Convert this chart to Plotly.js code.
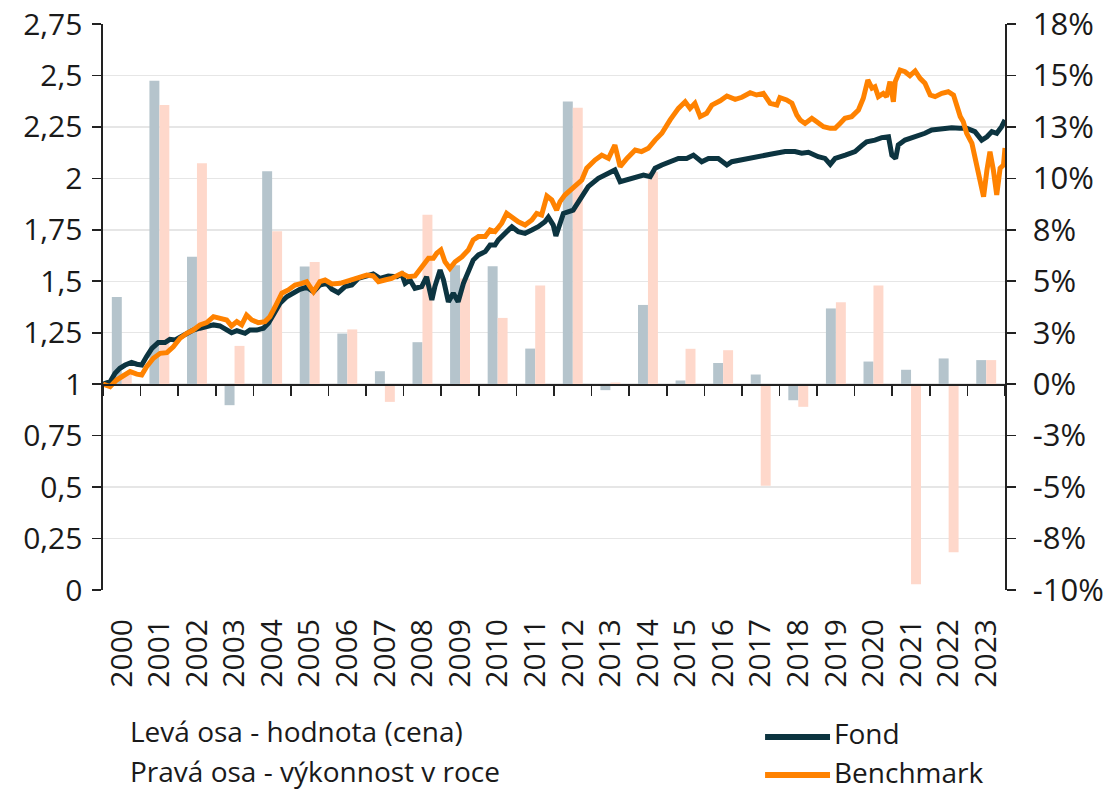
<!DOCTYPE html>
<html>
<head>
<meta charset="utf-8">
<script src="https://cdn.plot.ly/plotly-3.0.1.min.js"></script>
<style>
  html, body { margin: 0; padding: 0; background: #ffffff; }
  #chart { width: 1112px; height: 791px; }
</style>
</head>
<body>
<div id="chart"></div>
<script>
// ---- Data ----
var years = ["2000","2001","2002","2003","2004","2005","2006","2007","2008","2009","2010","2011",
             "2012","2013","2014","2015","2016","2017","2018","2019","2020","2021","2022","2023"];

// Annual performance in % (right axis)
var fundPerf  = [4.24, 14.74, 6.19, -1.02, 10.35, 5.72, 2.46, 0.63, 2.04, 5.78, 5.73, 1.73,
                 13.74, -0.29, 3.85, 0.18, 1.03, 0.47, -0.78, 3.68, 1.10, 0.70, 1.25, 1.17];
var benchPerf = [0.55, 13.57, 10.74, 1.86, 7.43, 5.94, 2.66, -0.86, 8.23, 5.13, 3.22, 4.80,
                 13.43, 0.08, 10.32, 1.72, 1.65, -4.94, -1.10, 3.98, 4.80, -9.72, -8.16, 1.17];

// Value (price) series, left axis; time in decimal years
var fundDates = [
  2000.00,2000.19,2000.32,2000.45,2000.59,2000.76,2000.90,2001.03,2001.16,2001.30,
  2001.47,2001.65,2001.78,2001.92,2002.05,2002.23,2002.40,2002.58,2002.76,2002.94,
  2003.11,2003.29,2003.42,2003.56,2003.69,2003.78,2003.91,2004.09,2004.27,2004.40,
  2004.53,2004.71,2004.89,2005.06,2005.24,2005.42,2005.60,2005.77,2005.95,2006.09,
  2006.26,2006.44,2006.62,2006.79,2006.97,2007.19,2007.37,2007.59,2007.82,2007.95,
  2008.04,2008.17,2008.30,2008.48,2008.61,2008.75,2008.83,2008.97,2009.06,2009.19,
  2009.32,2009.45,2009.59,2009.72,2009.85,2009.99,2010.17,2010.30,2010.43,2010.52,
  2010.70,2010.88,2011.05,2011.23,2011.41,2011.58,2011.76,2011.85,2011.98,2012.05,
  2012.25,2012.51,2012.74,2012.91,2013.18,2013.45,2013.62,2013.76,2013.94,2014.16,
  2014.38,2014.56,2014.69,2014.87,2015.09,2015.31,2015.53,2015.71,2015.93,2016.11,
  2016.37,2016.60,2016.73,2017.00,2017.26,2017.53,2017.79,2018.15,2018.41,2018.59,
  2018.77,2019.03,2019.21,2019.35,2019.48,2019.75,2020.01,2020.19,2020.32,2020.54,
  2020.72,2020.90,2020.99,2021.09,2021.16,2021.34,2021.61,2021.87,2022.05,2022.32,
  2022.58,2022.80,2022.98,2023.20,2023.38,2023.52,2023.65,2023.78,2023.91,2024.00
];
var fundValues = [
  1.000,1.012,1.053,1.077,1.093,1.106,1.097,1.093,1.134,1.174,
  1.202,1.202,1.218,1.215,1.228,1.247,1.263,1.272,1.279,1.288,
  1.283,1.267,1.250,1.260,1.255,1.247,1.263,1.263,1.272,1.296,
  1.336,1.393,1.425,1.442,1.461,1.471,1.449,1.482,1.490,1.461,
  1.444,1.474,1.482,1.514,1.522,1.535,1.514,1.526,1.522,1.535,
  1.490,1.506,1.466,1.474,1.522,1.409,1.474,1.555,1.506,1.400,
  1.442,1.400,1.490,1.555,1.603,1.628,1.644,1.676,1.676,1.701,
  1.733,1.765,1.741,1.733,1.749,1.765,1.789,1.811,1.773,1.720,
  1.830,1.846,1.911,1.960,2.000,2.025,2.041,1.984,1.992,2.008,
  2.016,2.008,2.049,2.065,2.081,2.097,2.097,2.113,2.081,2.097,
  2.097,2.065,2.081,2.089,2.102,2.109,2.118,2.130,2.130,2.122,
  2.127,2.105,2.097,2.068,2.097,2.113,2.130,2.159,2.178,2.186,
  2.198,2.202,2.113,2.097,2.162,2.186,2.202,2.219,2.235,2.243,
  2.246,2.243,2.243,2.227,2.186,2.202,2.227,2.219,2.251,2.284
];

var benchDates = [
  2000.00,2000.19,2000.36,2000.54,2000.72,2000.90,2001.03,2001.16,2001.34,2001.52,
  2001.70,2001.87,2002.05,2002.23,2002.40,2002.58,2002.76,2002.94,2003.11,2003.29,
  2003.42,2003.56,2003.69,2003.82,2003.96,2004.13,2004.31,2004.44,2004.58,2004.76,
  2004.93,2005.11,2005.29,2005.42,2005.60,2005.77,2005.91,2006.09,2006.31,2006.44,
  2006.62,2006.79,2007.02,2007.19,2007.33,2007.50,2007.68,2007.95,2008.12,2008.30,
  2008.48,2008.66,2008.79,2008.88,2008.99,2009.10,2009.23,2009.37,2009.55,2009.72,
  2009.85,2009.99,2010.17,2010.30,2010.43,2010.61,2010.74,2010.92,2011.05,2011.23,
  2011.41,2011.54,2011.67,2011.81,2011.94,2012.07,2012.16,2012.29,2012.56,2012.74,
  2012.87,2013.09,2013.27,2013.45,2013.62,2013.76,2013.94,2014.16,2014.33,2014.51,
  2014.69,2014.87,2015.09,2015.31,2015.49,2015.62,2015.75,2015.89,2016.06,2016.20,
  2016.42,2016.60,2016.82,2017.00,2017.22,2017.39,2017.57,2017.75,2017.93,2018.01,
  2018.19,2018.33,2018.46,2018.55,2018.68,2018.86,2018.99,2019.17,2019.35,2019.48,
  2019.61,2019.74,2019.92,2020.10,2020.23,2020.35,2020.46,2020.54,2020.63,2020.76,
  2020.85,2020.94,2021.03,2021.08,2021.21,2021.34,2021.47,2021.61,2021.74,2021.87,
  2022.01,2022.14,2022.32,2022.49,2022.63,2022.72,2022.81,2022.89,2022.98,2023.12,
  2023.20,2023.31,2023.43,2023.52,2023.60,2023.69,2023.78,2023.87,2023.96,2024.00
];
var benchValues = [
  1.001,0.988,1.020,1.040,1.061,1.049,1.045,1.085,1.126,1.150,
  1.153,1.182,1.223,1.247,1.263,1.288,1.299,1.328,1.320,1.312,
  1.283,1.304,1.288,1.336,1.312,1.299,1.304,1.328,1.376,1.442,
  1.458,1.482,1.490,1.498,1.449,1.498,1.506,1.487,1.490,1.498,
  1.510,1.522,1.530,1.526,1.498,1.506,1.514,1.539,1.522,1.526,
  1.571,1.612,1.612,1.636,1.652,1.595,1.563,1.595,1.619,1.652,
  1.701,1.717,1.717,1.749,1.741,1.782,1.830,1.806,1.789,1.773,
  1.798,1.830,1.822,1.914,1.895,1.846,1.887,1.919,1.960,1.992,
  2.049,2.089,2.113,2.097,2.162,2.057,2.097,2.138,2.130,2.146,
  2.186,2.219,2.284,2.340,2.372,2.340,2.365,2.300,2.316,2.356,
  2.377,2.400,2.384,2.394,2.416,2.405,2.413,2.365,2.356,2.392,
  2.381,2.365,2.308,2.284,2.267,2.292,2.275,2.251,2.243,2.243,
  2.267,2.292,2.300,2.332,2.389,2.478,2.438,2.445,2.397,2.413,
  2.397,2.470,2.372,2.470,2.526,2.518,2.499,2.522,2.486,2.462,
  2.405,2.397,2.413,2.421,2.405,2.348,2.300,2.275,2.219,2.170,
  2.097,2.016,1.911,2.041,2.130,2.041,1.919,2.049,2.065,2.148
];

// Tick labels
var valTicks  = [0, 0.25, 0.5, 0.75, 1, 1.25, 1.5, 1.75, 2, 2.25, 2.5, 2.75];
var valLabels = ["0","0,25","0,5","0,75","1","1,25","1,5","1,75","2","2,25","2,5","2,75"];
var pctTicks  = [-10, -7.5, -5, -2.5, 0, 2.5, 5, 7.5, 10, 12.5, 15, 17.5];
var pctLabels = ["-10%","-8%","-5%","-3%","0%","3%","5%","8%","10%","13%","15%","18%"];

var seriesNames = ["Fond", "Benchmark"];
var noteLines = ["Levá osa - hodnota (cena)", "Pravá osa - výkonnost v roce"];

// ---- Styles ----
var FUND_LINE = "#0c3440";
var BENCH_LINE = "#ff8200";
var FUND_BAR = "#b5c4cc";
var BENCH_BAR = "#fed8cb";
var AX = "#222222";
var TXT = "#1a1a1a";
var FONT = "Open Sans, Noto Sans, sans-serif";

var traces = [
  { type: "bar", x: years, y: fundPerf, xaxis: "x", yaxis: "y", name: seriesNames[0] + " %",
    marker: { color: FUND_BAR }, hoverinfo: "x+y", showlegend: false },
  { type: "bar", x: years, y: benchPerf, xaxis: "x", yaxis: "y", name: seriesNames[1] + " %",
    marker: { color: BENCH_BAR }, hoverinfo: "x+y", showlegend: false },
  { type: "scatter", mode: "lines", x: fundDates, y: fundValues, xaxis: "x2", yaxis: "y2",
    name: seriesNames[0], line: { color: FUND_LINE, width: 5 }, showlegend: false },
  { type: "scatter", mode: "lines", x: benchDates, y: benchValues, xaxis: "x2", yaxis: "y2",
    name: seriesNames[1], line: { color: BENCH_LINE, width: 5 }, showlegend: false }
];

var zeroPos = 1 / 2.75;
var noteFont = { size: 28, color: TXT, family: FONT };

var layout = {
  width: 1112, height: 791,
  margin: { l: 103, r: 107, t: 24, b: 201, pad: 0 },
  paper_bgcolor: "#ffffff", plot_bgcolor: "#ffffff",
  separators: ",.",
  font: { family: FONT, color: TXT, size: 30 },
  showlegend: false,
  barmode: "group", bargap: 0.47, bargroupgap: 0,
  xaxis: {
    type: "category", categoryorder: "array", categoryarray: years,
    range: [-0.5, years.length - 0.5],
    anchor: "y", showline: false, ticks: "", showgrid: false, zeroline: false,
    tickangle: -90, tickfont: { size: 30, color: TXT, family: FONT },
    ticklabelstandoff: 22, fixedrange: true
  },
  xaxis2: {
    overlaying: "x", anchor: "free", position: zeroPos,
    range: [2000, 2024], tick0: 2000, dtick: 1,
    ticks: "outside", ticklen: 10, tickwidth: 1.6, tickcolor: AX,
    showline: true, linecolor: AX, linewidth: 1.6,
    showticklabels: false, showgrid: false, zeroline: false, fixedrange: true
  },
  yaxis: {
    side: "right", anchor: "x", range: [-10, 17.5],
    tickmode: "array", tickvals: pctTicks, ticktext: pctLabels,
    showline: true, linecolor: AX, linewidth: 1.6,
    ticks: "outside", ticklen: 9, tickwidth: 1.6, tickcolor: AX,
    showgrid: true, gridcolor: "#e6e6e6", gridwidth: 1.5, zeroline: false,
    tickfont: { size: 31, color: TXT, family: FONT }, ticklabelstandoff: 11, fixedrange: true
  },
  yaxis2: {
    overlaying: "y", side: "left", anchor: "x", range: [0, 2.75],
    tickmode: "array", tickvals: valTicks, ticktext: valLabels,
    showline: true, linecolor: AX, linewidth: 1.6,
    ticks: "outside", ticklen: 9, tickwidth: 1.6, tickcolor: AX,
    showgrid: false, zeroline: false,
    tickfont: { size: 30, color: TXT, family: FONT }, ticklabelstandoff: 4, fixedrange: true
  },
  shapes: [
    { type: "line", xref: "paper", yref: "paper", x0: 0.734, x1: 0.806, y0: -0.2597, y1: -0.2597,
      line: { color: FUND_LINE, width: 6 } },
    { type: "line", xref: "paper", yref: "paper", x0: 0.734, x1: 0.806, y0: -0.3269, y1: -0.3269,
      line: { color: BENCH_LINE, width: 6 } }
  ],
  annotations: [
    { xref: "paper", yref: "paper", x: 0.029, y: -0.2491, xanchor: "left", yanchor: "middle",
      text: noteLines[0], showarrow: false, borderpad: 0, font: noteFont },
    { xref: "paper", yref: "paper", x: 0.029, y: -0.3198, xanchor: "left", yanchor: "middle",
      text: noteLines[1], showarrow: false, borderpad: 0, font: noteFont },
    { xref: "paper", yref: "paper", x: 0.809, y: -0.2535, xanchor: "left", yanchor: "middle",
      text: seriesNames[0], showarrow: false, borderpad: 0, font: noteFont },
    { xref: "paper", yref: "paper", x: 0.809, y: -0.3207, xanchor: "left", yanchor: "middle",
      text: seriesNames[1], showarrow: false, borderpad: 0, font: noteFont }
  ]
};

Plotly.newPlot("chart", traces, layout, { displayModeBar: false, responsive: false, staticPlot: true });
</script>
</body>
</html>
